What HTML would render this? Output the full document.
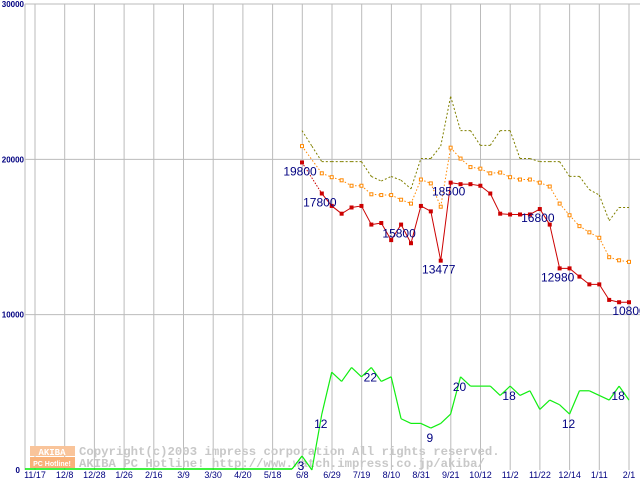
<!DOCTYPE html>
<html><head><meta charset="utf-8"><style>
html,body{margin:0;padding:0;background:#fff;width:640px;height:480px;overflow:hidden}
svg{display:block}
</style></head><body>
<svg id="chart" width="640" height="480" xmlns="http://www.w3.org/2000/svg" font-family="'Liberation Sans', sans-serif">
<g id="grid"></g>
<g id="wm">
<rect x="30" y="446" width="45" height="10" fill="#f9c49a"/>
<rect x="30" y="457" width="45" height="11" fill="#f9b27a"/>
<text x="52" y="455" font-size="9" font-weight="bold" fill="#fff" text-anchor="middle" font-family="'Liberation Mono', monospace">AKIBA</text>
<text x="52" y="466" font-size="7" font-weight="bold" fill="#fff" text-anchor="middle">PC Hotline!</text>
<text x="79" y="455" font-size="12.3" font-weight="bold" fill="#c8c8c8" font-family="'Liberation Mono', monospace">Copyright(c)2003 impress corporation All rights reserved.</text>
<text x="79" y="467" font-size="12.3" font-weight="bold" fill="#c8c8c8" font-family="'Liberation Mono', monospace">AKIBA PC Hotline!  http://www.watch.impress.co.jp/akiba/</text>
</g>
<g id="series"></g>
<g id="labels"></g>
</svg>
<script>
const xLabels=["11/17","12/8","12/28","1/26","2/16","3/9","3/30","4/20","5/18","6/8","6/29","7/19","8/10","8/31","9/21","10/12","11/2","11/22","12/14","1/11","2/1"];
const yTicks=[0,10000,20000,30000];
const lowPrice=[19800,null,17800,17000,16500,16900,17000,15800,15900,14800,15800,14600,17000,16650,13477,18500,18400,18400,18300,17800,16500,16450,16450,16450,16800,15800,12980,12980,12450,11950,11950,10950,10800,10800];
const avgPrice=[20850,null,19100,18850,18650,18300,18300,17750,17700,17700,17400,17150,18700,18450,16950,20750,20050,19500,19400,19100,19150,18850,18700,18700,18500,18250,17150,16400,15700,15300,14950,13700,13500,13400];
const highPrice=[21850,20850,19850,19850,19850,19850,19850,18900,18600,18900,18650,18100,20050,20050,20850,24050,21850,21850,20900,20900,21850,21850,20050,20050,19850,19850,19850,18900,18900,18050,17700,16050,16900,16900];
const shopCount=[3,0,12,21,19,22,20,22,19,20,11,10,10,9,10,12,20,18,18,18,16,18,16,17,13,15,14,12,17,17,16,15,18,15];
const priceLabels=[[0,"19800"],[2,"17800"],[10,"15800"],[14,"13477"],[15,"18500"],[24,"16800"],[26,"12980"],[33,"10800"]];
const countLabels=[[0,"3"],[2,"12"],[7,"22"],[13,"9"],[16,"20"],[21,"18"],[27,"12"],[32,"18"]];

const NS="http://www.w3.org/2000/svg";
const X0=25,Y0=470,Y30=4;
const yS=v=>Y0-(v/30000)*(Y0-Y30);
const yC=c=>yS(c*300);
const xS=i=>302+i*(629-302)/33;
const xL=j=>35+j*(629-35)/20;
function mk(tag,attrs,parent){const e=document.createElementNS(NS,tag);for(const k in attrs)e.setAttribute(k,attrs[k]);parent.appendChild(e);return e;}
const grid=document.getElementById('grid'),ser=document.getElementById('series'),lab=document.getElementById('labels');
let a=mk('line',{x1:X0,y1:Y30,x2:X0,y2:Y0,stroke:'#bbb','stroke-width':1},grid);


xLabels.forEach((t,j)=>{
 const l=mk('line',{x1:xL(j),y1:Y30,x2:xL(j),y2:Y0,stroke:'#bbb','stroke-width':1},grid);
 
 
 const tx=mk('text',{x:xL(j),y:478,'font-size':9,fill:'#000080','text-anchor':'middle'},lab);
 tx.textContent=t;
 
 
});
yTicks.forEach(v=>{
 if(v>0){const l=mk('line',{x1:X0,y1:yS(v),x2:640,y2:yS(v),stroke:'#bbb','stroke-width':1},grid);
 
 }
 const tx=mk('text',{x:v===0?20:X0-1,y:v===0?Y0+3:yS(v)+3,'font-size':8,fill:'#000080','text-anchor':'end','font-weight':'bold'},lab);
 tx.textContent=String(v);
 
 
});
function seg(arr,f,stroke,dash,name,w){
 for(let i=0;i<arr.length-1;i++){
  let j=i+1; if(arr[i]==null)continue;
  let gap=false; while(j<arr.length&&arr[j]==null){j++;gap=true;}
  if(j>=arr.length)break;
  const attrs={x1:xS(i),y1:f(arr[i]),x2:xS(j),y2:f(arr[j]),stroke:stroke,'stroke-width':w||1};
  if(dash||gap)attrs['stroke-dasharray']=dash||'1.5,1.5';
  const l=mk('line',attrs,ser);
  
  
 }
}
const g0=mk('line',{x1:X0,y1:Y0-1,x2:xS(-1),y2:Y0-1,stroke:'#00ee00','stroke-width':1.5},ser);


const g1=mk('line',{x1:xS(-1),y1:Y0-1,x2:xS(0),y2:yC(shopCount[0]),stroke:'#00ee00','stroke-width':1.2},ser);


seg(shopCount,yC,'#11ee11',null,'count-line',1.2);
seg(highPrice,yS,'#808000','2,2','high-price-line',1);
seg(avgPrice,yS,'#ff8800','1.5,2','avg-price-line',1);
seg(lowPrice,yS,'#cc0000',null,'low-price-line',1);
avgPrice.forEach((v,i)=>{if(v==null)return;
 const r=mk('rect',{x:xS(i)-1.5,y:yS(v)-1.5,width:3,height:3,fill:'#fff',stroke:'#ff8800','stroke-width':1},ser);
 
 });
lowPrice.forEach((v,i)=>{if(v==null)return;
 const r=mk('rect',{x:xS(i)-2,y:yS(v)-2,width:4,height:4,fill:'#cc0000'},ser);
 
 });
priceLabels.forEach(([i,t])=>{
 const tx=mk('text',{x:xS(i)-2+(i===33?2:0),y:yS(lowPrice[i])+13,'font-size':12,fill:'#000080','text-anchor':'middle'},lab);
 tx.textContent=t;
 
 });
countLabels.forEach(([i,t])=>{
 const tx=mk('text',{x:xS(i)-1,y:yC(shopCount[i])+14,'font-size':12,fill:'#000080','text-anchor':'middle'},lab);
 tx.textContent=t;
 
 });
</script>
</body></html>
